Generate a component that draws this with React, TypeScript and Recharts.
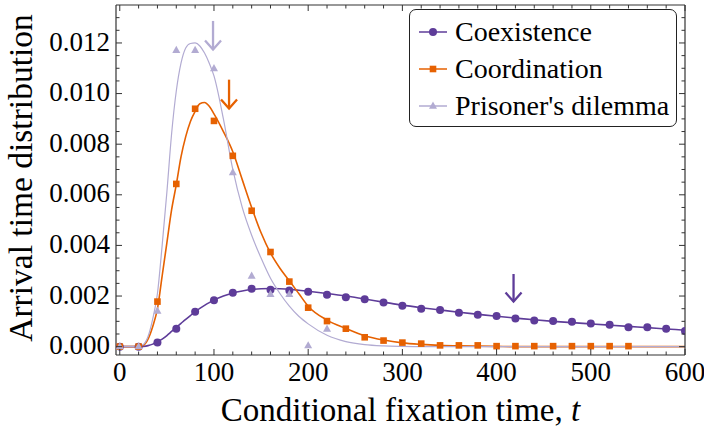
import React from "react";
import { ComposedChart, Line, Scatter, XAxis, YAxis, ReferenceLine, Legend } from "recharts";

// series
const SERIES_NAMES = ["Coexistence", "Coordination", "Prisoner's dilemma"];
const SERIES_COLORS = ["#5e3c99", "#e66101", "#b2abd2"];

// simulation points
const COEX_T = [0, 20, 40, 60, 80, 100, 120, 140, 160, 180, 200, 220, 240, 260, 280, 300, 320, 340, 360, 380, 400, 420, 440, 460, 480, 500, 520, 540, 560, 580, 600];
const COEX_PTS = [0, 0, 0.00016, 0.00071, 0.00138, 0.00183, 0.00213, 0.00229, 0.00225, 0.00222, 0.00217, 0.00205, 0.00195, 0.00187, 0.00174, 0.00162, 0.0015, 0.00145, 0.00134, 0.00126, 0.00121, 0.00111, 0.00103, 0.00101, 0.00098, 0.00091, 0.00087, 0.00077, 0.00077, 0.00071, 0.00062];
const COORD_T = [0, 20, 40, 60, 80, 100, 120, 140, 160, 180, 200, 220, 240, 260, 280, 300, 320, 340, 360, 380, 400, 420, 440, 460, 480, 500, 520, 540];
const COORD_PTS = [0, 0, 0.00178, 0.00643, 0.0094, 0.00892, 0.00754, 0.00537, 0.00374, 0.00257, 0.00154, 0.00101, 0.00071, 0.00037, 0.00024, 0.00016, 0.00012, 0.00005, 0.00005, 0.00005, 0.00002, 0.00002, 0.00002, 0.00002, 0.00002, 0.00002, 0.00002, 0.00002];
const PD_T = [0, 20, 40, 60, 80, 100, 120, 140, 160, 180, 200, 220];
const PD_PTS = [0, 0, 0.00141, 0.01171, 0.01171, 0.01099, 0.00688, 0.00279, 0.00207, 0.00207, 0.00004, 0.0007];

// theoretical curves
const CURVE_T = [0, 10, 20, 25, 30, 35, 40, 45, 50, 55, 60, 65, 70, 75, 80, 85, 90, 95, 100, 110, 120, 130, 140, 150, 160, 170, 180, 190, 200, 220, 240, 260, 280, 300, 320, 340, 360, 380, 400, 420, 440, 460, 480, 500, 520, 540, 560, 580, 600];
const COEX_CURVE = [0, 0, 0, 0.00001, 0.00004, 0.0001, 0.0002, 0.0003, 0.00044, 0.0006, 0.00076, 0.00092, 0.00108, 0.00123, 0.00138, 0.00151, 0.00163, 0.00174, 0.00184, 0.002, 0.00212, 0.0022, 0.00226, 0.00229, 0.0023, 0.00229, 0.00227, 0.00223, 0.00219, 0.0021, 0.002, 0.00188, 0.00176, 0.00164, 0.00154, 0.00145, 0.00136, 0.00128, 0.0012, 0.00113, 0.00106, 0.001, 0.00095, 0.0009, 0.00085, 0.0008, 0.00075, 0.0007, 0.00065];
const COORD_CURVE = [0, 0, 0, 0.00005, 0.0003, 0.0008, 0.0015, 0.0028, 0.0041, 0.0054, 0.0064, 0.0075, 0.0083, 0.0089, 0.0093, 0.0096, 0.00965, 0.0095, 0.0092, 0.0085, 0.0077, 0.0066, 0.0055, 0.0045, 0.0037, 0.0031, 0.0026, 0.0021, 0.0016, 0.00105, 0.00072, 0.00043, 0.00026, 0.00015, 0.00009, 0.00005, 0.00003, 0.00002, 0.00001, 0, 0, 0, 0, 0, 0, 0, 0, 0, 0];
const PD_CURVE = [0, 0, 0, 0.00008, 0.0004, 0.0011, 0.0021, 0.004, 0.0061, 0.0084, 0.0101, 0.0112, 0.0118, 0.01198, 0.012, 0.01188, 0.0116, 0.0112, 0.0107, 0.009, 0.007, 0.0055, 0.0044, 0.0035, 0.0027, 0.0021, 0.0016, 0.0012, 0.0009, 0.00045, 0.0002, 0.00008, 0.00003, 0.00001, 0, 0, 0, 0, 0, 0, 0, 0, 0, 0, 0, 0, 0, 0, 0];

// mean-time arrows: PD, coordination, coexistence
const ARROW_T = [99, 116, 418];
const ARROW_TOP = [0.01287, 0.01055, 0.00287];
const ARROW_TIP = [0.01174, 0.00941, 0.00178];
const ARROW_COLORS = ["#b2abd2", "#e66101", "#5e3c99"];

// axes
const X_DOMAIN = [-4, 600];
const Y_DOMAIN = [-0.00033, 0.0135];
const X_TICKS = Array.from({ length: 31 }, (_, i) => i * 20);
const Y_TICKS = Array.from({ length: 27 }, (_, i) => +(i * 0.0005).toFixed(4));

const FONT = "'Liberation Serif', 'Times New Roman', serif";
const FRAME = "#333";
const TICK_FONT = 27;

const zip = (ts: number[], vs: number[]) => ts.map((t, i) => ({ t, v: vs[i] }));
const isMajor = (v: number, step: number) => Math.abs(v / step - Math.round(v / step)) < 1e-6;

function LeftTick({ x, y, payload }: any) {
  const v = payload.value;
  const major = isMajor(v, 0.002);
  const ax = x + 6;
  return (
    <g>
      <line x1={ax} x2={ax + (major ? 6 : 3.5)} y1={y} y2={y} stroke={FRAME} strokeWidth={1} />
      {major && (
        <text x={x} y={y} dy="0.28em" textAnchor="end" fontSize={TICK_FONT} fontFamily={FONT} fill="#000">
          {v.toFixed(3)}
        </text>
      )}
    </g>
  );
}

function RightTick({ x, y, payload }: any) {
  const major = isMajor(payload.value, 0.002);
  return <line x1={x} x2={x - (major ? 6 : 3.5)} y1={y} y2={y} stroke={FRAME} strokeWidth={1} />;
}

function BottomTick({ x, y, payload }: any) {
  const v = payload.value;
  const major = isMajor(v, 100);
  const ay = y - 7;
  return (
    <g>
      <line x1={x} x2={x} y1={ay} y2={ay - (major ? 6 : 3.5)} stroke={FRAME} strokeWidth={1} />
      {major && (
        <text x={x} y={y} dy="0.7em" textAnchor="middle" fontSize={TICK_FONT} fontFamily={FONT} fill="#000">
          {v}
        </text>
      )}
    </g>
  );
}

function TopTick({ x, y, payload }: any) {
  const major = isMajor(payload.value, 100);
  return <line x1={x} x2={x} y1={y} y2={y + (major ? 6 : 3.5)} stroke={FRAME} strokeWidth={1} />;
}

function XTitle({ viewBox }: any) {
  return (
    <text x={viewBox.x + viewBox.width / 2} y={viewBox.y + 66} textAnchor="middle" fontSize={33} fontFamily={FONT} fill="#000">
      Conditional fixation time, <tspan fontStyle="italic">t</tspan>
    </text>
  );
}

function YTitle({ viewBox }: any) {
  const cy = viewBox.y + viewBox.height / 2 - 2;
  return (
    <text x={32} y={cy} transform={`rotate(-90, 32, ${cy})`} textAnchor="middle" fontSize={33.5} fontFamily={FONT} fill="#000">
      Arrival time distribution
    </text>
  );
}

const Dot = ({ cx, cy }: any) => <circle cx={cx} cy={cy} r={4} fill={SERIES_COLORS[0]} />;
const Sq = ({ cx, cy }: any) => <rect x={cx - 3.3} y={cy - 3.3} width={6.6} height={6.6} fill={SERIES_COLORS[1]} />;
const Tri = ({ cx, cy }: any) => (
  <polygon points={`${cx},${cy - 4.5} ${cx + 4},${cy + 2.7} ${cx - 4},${cy + 2.7}`} fill={SERIES_COLORS[2]} />
);

function marker(i: number, cx: number, cy: number) {
  if (i === 0) return <Dot cx={cx} cy={cy} />;
  if (i === 1) return <Sq cx={cx} cy={cy} />;
  return <Tri cx={cx} cy={cy} />;
}

function LegendBox() {
  return (
    <div
      style={{
        width: 268,
        height: 118,
        boxSizing: "border-box",
        border: `1.3px solid #222`,
        borderRadius: 7,
        background: "#fff",
        paddingTop: 3,
        fontFamily: FONT,
        fontSize: 28,
        color: "#000",
      }}
    >
      {SERIES_NAMES.map((name, i) => (
        <div key={name} style={{ display: "flex", alignItems: "center", height: 37, whiteSpace: "nowrap" }}>
          <svg width={44} height={20} style={{ marginLeft: 8, flexShrink: 0 }}>
            <line x1={1} x2={29} y1={10} y2={10} stroke={SERIES_COLORS[i]} strokeWidth={1.5} />
            {marker(i, 15, 10)}
          </svg>
          <span style={{ marginLeft: -7, lineHeight: "37px" }}>{name}</span>
        </div>
      ))}
    </div>
  );
}

function arrowShape(color: string) {
  return (props: any) => {
    const { x1, y1, y2 } = props;
    const top = Math.min(y1, y2);
    const tip = Math.max(y1, y2);
    return (
      <g>
        <line x1={x1} x2={x1} y1={top} y2={tip} stroke={color} strokeWidth={2.3} />
        <polyline
          points={`${x1 - 8},${tip - 9} ${x1},${tip} ${x1 + 8},${tip - 9}`}
          fill="none"
          stroke={color}
          strokeWidth={2.3}
        />
      </g>
    );
  };
}

export default function App() {
  const curves = [COEX_CURVE, COORD_CURVE, PD_CURVE];
  const widths = [1.6, 1.6, 1.2];
  return (
    <div style={{ position: "absolute", left: 0, top: 0, background: "#fff" }}>
      <ComposedChart width={704} height={432} margin={{ top: 0, right: 0, bottom: 0, left: 0 }}>
        <XAxis
          xAxisId="b"
          dataKey="t"
          type="number"
          domain={X_DOMAIN}
          allowDataOverflow
          ticks={X_TICKS}
          interval={0}
          height={77}
          tickSize={0}
          tickMargin={7}
          tick={<BottomTick />}
          axisLine={{ stroke: FRAME, strokeWidth: 1.2 }}
          label={(p: any) => <XTitle {...p} />}
        />
        <XAxis
          xAxisId="top"
          orientation="top"
          dataKey="t"
          type="number"
          domain={X_DOMAIN}
          allowDataOverflow
          ticks={X_TICKS}
          interval={0}
          height={5}
          tickSize={0}
          tickMargin={0}
          tick={<TopTick />}
          axisLine={{ stroke: FRAME, strokeWidth: 1.2 }}
        />
        <YAxis
          yAxisId="l"
          type="number"
          domain={Y_DOMAIN}
          allowDataOverflow
          ticks={Y_TICKS}
          interval={0}
          width={116}
          tickSize={0}
          tickMargin={6}
          tick={<LeftTick />}
          axisLine={{ stroke: FRAME, strokeWidth: 1.2 }}
          label={(p: any) => <YTitle {...p} />}
        />
        <YAxis
          yAxisId="r"
          orientation="right"
          type="number"
          domain={Y_DOMAIN}
          allowDataOverflow
          ticks={Y_TICKS}
          interval={0}
          width={19}
          tickSize={0}
          tickMargin={0}
          tick={<RightTick />}
          axisLine={{ stroke: FRAME, strokeWidth: 1.2 }}
        />

        {curves.map((c, i) => (
          <Line
            key={SERIES_NAMES[i]}
            xAxisId="b"
            yAxisId="l"
            data={zip(CURVE_T, c)}
            dataKey="v"
            type="monotone"
            stroke={SERIES_COLORS[i]}
            strokeWidth={widths[i]}
            dot={false}
            activeDot={false}
            legendType="none"
            isAnimationActive={false}
          />
        ))}

        <Scatter xAxisId="b" yAxisId="l" name={SERIES_NAMES[0]} data={zip(COEX_T, COEX_PTS)} dataKey="v" shape={<Dot />} legendType="none" isAnimationActive={false} />
        <Scatter xAxisId="b" yAxisId="l" name={SERIES_NAMES[1]} data={zip(COORD_T, COORD_PTS)} dataKey="v" shape={<Sq />} legendType="none" isAnimationActive={false} />
        <Scatter xAxisId="b" yAxisId="l" name={SERIES_NAMES[2]} data={zip(PD_T, PD_PTS)} dataKey="v" shape={<Tri />} legendType="none" isAnimationActive={false} />

        {ARROW_T.map((t, i) => (
          <ReferenceLine
            key={t}
            xAxisId="b"
            yAxisId="l"
            segment={[
              { x: t, y: ARROW_TOP[i] },
              { x: t, y: ARROW_TIP[i] },
            ]}
            shape={arrowShape(ARROW_COLORS[i])}
          />
        ))}

        <Legend
          verticalAlign="middle"
          align="center"
          layout="horizontal"
          wrapperStyle={{ left: 409, top: 9, width: 268, height: 118 }}
          content={() => <LegendBox />}
        />
      </ComposedChart>
    </div>
  );
}
